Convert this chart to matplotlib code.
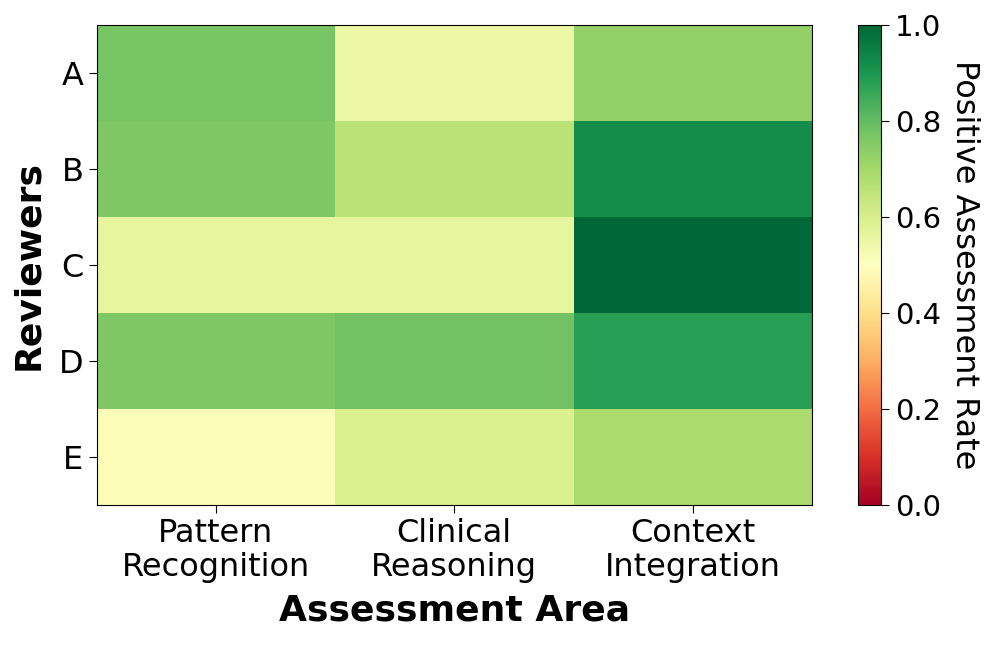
import numpy as np
import matplotlib
matplotlib.use('Agg')
import matplotlib.pyplot as plt

reviewers = ['A', 'B', 'C', 'D', 'E']
areas = ['Pattern\nRecognition', 'Clinical\nReasoning', 'Context\nIntegration']

# positive assessment rate per reviewer (rows) and area (columns)
pattern_recognition = [0.77, 0.76, 0.56, 0.76, 0.51]
clinical_reasoning = [0.55, 0.66, 0.56, 0.78, 0.59]
context_integration = [0.73, 0.92, 1.00, 0.88, 0.69]

rates = np.array([pattern_recognition, clinical_reasoning, context_integration]).T

fig = plt.figure(figsize=(9.96, 6.46), dpi=100)
ax = fig.add_axes([0.097, 0.218, 0.718, 0.743])
cax = fig.add_axes([0.861, 0.218, 0.024, 0.743])

im = ax.imshow(rates, cmap='RdYlGn', vmin=0, vmax=1, aspect='auto')
ax.set_xticks(range(len(areas)))
ax.set_xticklabels(areas, fontsize=23, linespacing=1.1)
ax.set_yticks(range(len(reviewers)))
ax.set_yticklabels(reviewers, fontsize=23)
ax.set_xlabel('Assessment Area', fontsize=26, fontweight='bold', labelpad=8)
ax.set_ylabel('Reviewers', fontsize=26, fontweight='bold', labelpad=10)
ax.tick_params(length=6)

cbar = fig.colorbar(im, cax=cax)
cbar.ax.tick_params(labelsize=21, length=6)
cbar.set_label('Positive Assessment Rate', fontsize=23, rotation=270, labelpad=28)

plt.savefig('out.png', dpi=100)
